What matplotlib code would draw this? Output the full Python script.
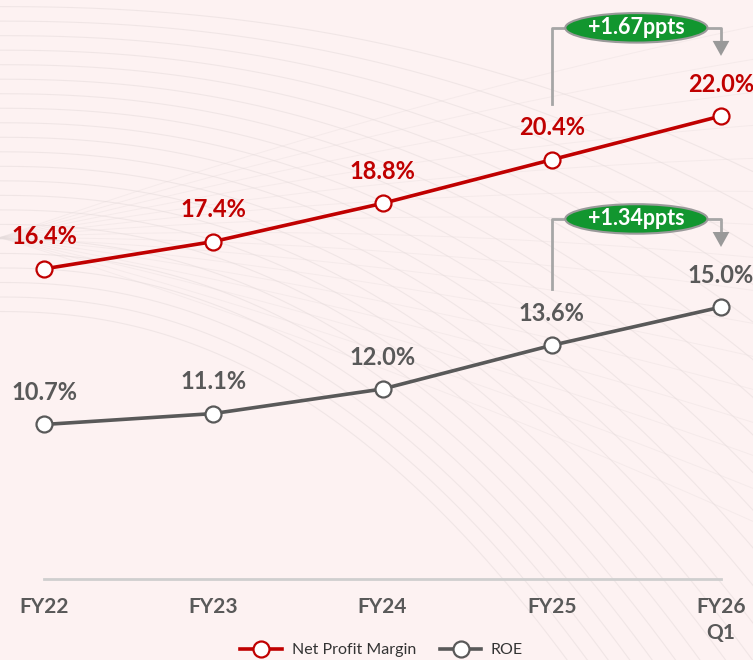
import numpy as np
import matplotlib.pyplot as plt
from matplotlib.patches import Ellipse

# dados do gráfico
periodos = ["FY22", "FY23", "FY24", "FY25", "FY26\nQ1"]
margem_liquida = [16.4, 17.4, 18.8, 20.4, 22.0]
roe = [10.7, 11.1, 12.0, 13.6, 15.0]
variacoes = ["+1.67ppts", "+1.34ppts"]

vermelho = "#C00000"
cinza = "#595959"
fundo = "#FDF2F2"
fonte = "Lato"

fig = plt.figure(figsize=(7.53, 6.6), dpi=100, facecolor=fundo)

# fundo decorativo com curvas suaves
bg = fig.add_axes([0, 0, 1, 1], zorder=0)
bg.set_facecolor(fundo)
bg.set_xlim(0, 1)
bg.set_ylim(0, 1)
bg.axis("off")
t = np.linspace(0, 1, 300)
for i in range(22):
    y0 = 0.99 - i * 0.022
    k = 0.25 + i * 0.035
    bg.plot(t, y0 - k * t ** 2.2, color="#E4DADA", lw=0.8, alpha=0.5)
for i in range(16):
    inc = -0.35 + i * 0.05
    bg.plot(t, 0.64 + inc * t - 0.08 * t ** 2, color="#E6DCDC", lw=0.7, alpha=0.35)

ax = fig.add_axes([0, (660 - 579) / 660, 1, 579 / 660], zorder=1)
ax.patch.set_alpha(0)
x = np.arange(len(periodos))
y0, y1 = 5.04, 26.25
ax.set_xlim(-44 / 169.25, 4 + 32 / 169.25)
ax.set_ylim(y0, y1)
for s in ax.spines.values():
    s.set_visible(False)
ax.set_yticks([])
ax.set_xticks(x)
ax.set_xticklabels(periodos, fontsize=15, fontweight="bold", color=cinza,
                   family=fonte, linespacing=1.35)
ax.tick_params(axis="x", length=0, pad=13)
ax.plot([x[0], x[-1]], [y0, y0], color="#CFCFCF", lw=2, clip_on=False)

ax.plot(x, margem_liquida, color=vermelho, lw=2.6, marker="o", ms=11.5,
        mfc="white", mec=vermelho, mew=1.6, label="Net Profit Margin", zorder=4)
ax.plot(x, roe, color=cinza, lw=2.6, marker="o", ms=11.5,
        mfc="white", mec=cinza, mew=1.6, label="ROE", zorder=4)

for xi, v in zip(x, margem_liquida):
    ax.annotate(f"{v:.1f}%", (xi, v), xytext=(0, 23), textcoords="offset points",
                ha="center", va="center", fontsize=17, fontweight="bold",
                color=vermelho, family=fonte)
for xi, v in zip(x, roe):
    ax.annotate(f"{v:.1f}%", (xi, v), xytext=(0, 23), textcoords="offset points",
                ha="center", va="center", fontsize=17, fontweight="bold",
                color=cinza, family=fonte)

# colchetes de variação
for serie, txt in zip([margem_liquida, roe], variacoes):
    yb = serie[-1] + 3.23
    ax.plot([3, 3, 3.12], [serie[-2] + 2.05, yb, yb], color="#A6A6A6", lw=2, zorder=2)
    ax.plot([3.85, 4, 4], [yb, yb, serie[-1] + 2.6], color="#A6A6A6", lw=2, zorder=2)
    ax.annotate("", xy=(4, serie[-1] + 2.1), xytext=(4, serie[-1] + 2.75),
                arrowprops=dict(arrowstyle="-|>,head_width=0.6,head_length=1.08",
                                color="#999999", lw=0))
    ax.add_patch(Ellipse((3.5, yb), 0.84, 1.08, facecolor="#12962F",
                         edgecolor="#9A9A9A", lw=1.5, zorder=3))
    ax.text(3.5, yb, txt, ha="center", va="center", fontsize=15.5,
            fontweight="bold", color="white", family=fonte, zorder=5)

leg = fig.legend(loc="center", bbox_to_anchor=(0.507, 10 / 660), ncol=2,
                 frameon=False, prop={"family": fonte, "size": 11.5},
                 handlelength=2.6, columnspacing=1.5, handletextpad=0.6)
for t_ in leg.get_texts():
    t_.set_color("#333333")

fig.savefig("out.png", dpi=100, facecolor=fundo)
